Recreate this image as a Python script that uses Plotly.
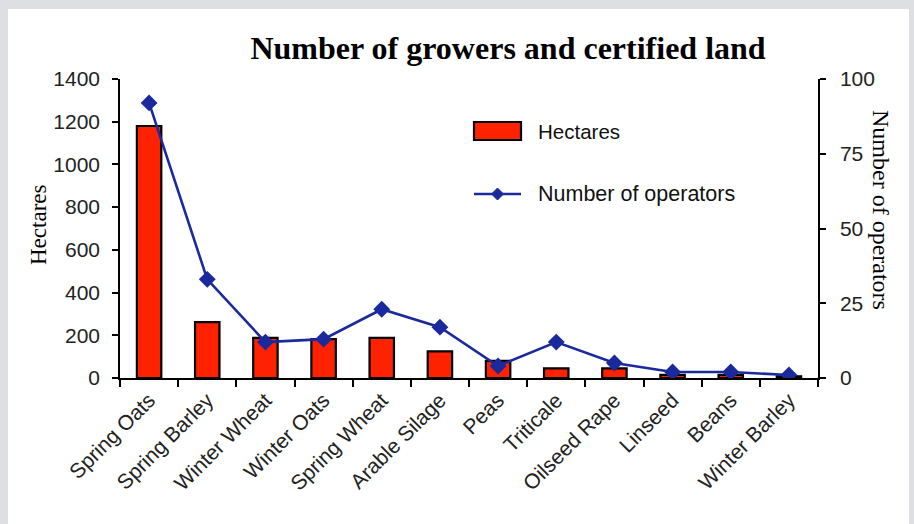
import plotly.graph_objects as go

categories = ["Spring Oats", "Spring Barley", "Winter Wheat", "Winter Oats", "Spring Wheat",
              "Arable Silage", "Peas", "Triticale", "Oilseed Rape", "Linseed", "Beans", "Winter Barley"]
hectares = [1180, 262, 188, 182, 188, 125, 80, 45, 45, 15, 15, 8]
operators = [92, 33, 12, 13, 23, 17, 4, 12, 5, 2, 2, 1]
left_ticks = [0, 200, 400, 600, 800, 1000, 1200, 1400]
right_ticks = [0, 25, 50, 75, 100]

W, H = 914, 524
L, R, T, B = 120, 96, 79, 146
PW, PH = W - L - R, H - T - B


def px(x):
    return (x - L) / PW


def py(y):
    return (H - B - y) / PH


RED = "#ff2200"
BLUE = "#1a2a9c"
SANS = "Liberation Sans, Arial"
SERIF = "Liberation Serif, Times New Roman"
TICKFONT = dict(family=SANS, size=21, color="#222222")

fig = go.Figure()
fig.add_trace(go.Bar(x=categories, y=hectares, name="Hectares", yaxis="y",
                     marker=dict(color=RED, line=dict(color="black", width=2.2)),
                     showlegend=False))
fig.add_trace(go.Scatter(x=categories, y=operators, name="Number of operators", yaxis="y2",
                         mode="lines+markers",
                         line=dict(color=BLUE, width=2.6),
                         marker=dict(symbol="diamond", size=13, color=BLUE),
                         showlegend=False))

shapes = [
    # white card on grey background
    dict(type="rect", xref="paper", yref="paper", x0=px(8), x1=px(909), y0=py(524), y1=py(9),
         fillcolor="white", line=dict(width=0), layer="below"),
    # legend: bar swatch
    dict(type="rect", xref="paper", yref="paper", x0=px(474), x1=px(521), y0=py(140), y1=py(122),
         fillcolor=RED, line=dict(color="black", width=2.2)),
    # legend: line swatch
    dict(type="line", xref="paper", yref="paper", x0=px(474), x1=px(521), y0=py(194), y1=py(194),
         line=dict(color=BLUE, width=2.6)),
    dict(type="path", xref="paper", yref="paper", xsizemode="pixel", ysizemode="pixel",
         xanchor=px(497.5), yanchor=py(194), path="M -6 0 L 0 6 L 6 0 L 0 -6 Z",
         fillcolor=BLUE, line=dict(color=BLUE, width=1)),
]

annotations = [
    dict(text="Hectares", xref="paper", yref="paper", x=px(536), y=py(131), xanchor="left",
         yanchor="middle", showarrow=False, font=dict(family=SANS, size=20.5, color="#111")),
    dict(text="Number of operators", xref="paper", yref="paper", x=px(536), y=py(194), xanchor="left",
         yanchor="middle", showarrow=False, font=dict(family=SANS, size=21.5, color="#111")),
    dict(text="Hectares", xref="paper", yref="paper", x=px(38), y=py(225), xanchor="center",
         yanchor="middle", textangle=-90, showarrow=False, font=dict(family=SERIF, size=23, color="black")),
    dict(text="Number of operators", xref="paper", yref="paper", x=px(881), y=py(210), xanchor="center",
         yanchor="middle", textangle=90, showarrow=False, font=dict(family=SERIF, size=24, color="black")),
]

fig.update_layout(
    width=W, height=H,
    margin=dict(l=L, r=R, t=T, b=B, pad=0),
    paper_bgcolor="#dedfe2",
    plot_bgcolor="white",
    title=dict(text="<b>Number of growers and certified land</b>", x=508 / W, y=1 - 48 / H,
               xanchor="center", yanchor="middle", xref="container", yref="container",
               font=dict(family=SERIF, size=32, color="black")),
    bargap=0.58,
    xaxis=dict(type="category", range=[-0.5, len(categories) - 0.5], showline=True,
               linecolor="black", linewidth=1.5,
               ticks="outside", tickson="boundaries", ticklen=7, tickcolor="black", tickwidth=1.5,
               tickangle=-45, tickfont=dict(family=SANS, size=21, color="#222"),
               showgrid=False, zeroline=False, fixedrange=True),
    yaxis=dict(range=[0, 1400], tickvals=left_ticks, showline=True, linecolor="black", linewidth=1.5,
               ticks="outside", ticklen=6, tickcolor="black", tickwidth=1.5, ticklabelstandoff=8,
               tickfont=TICKFONT, showgrid=False, zeroline=False),
    yaxis2=dict(range=[0, 100], tickvals=right_ticks, overlaying="y", side="right", showline=True,
                linecolor="black", linewidth=1.5, ticks="outside", ticklen=6, tickcolor="black",
                tickwidth=1.5, ticklabelstandoff=10, tickfont=TICKFONT, showgrid=False, zeroline=False),
    shapes=shapes,
    annotations=annotations,
    showlegend=False,
)

fig.write_html("out.html")
